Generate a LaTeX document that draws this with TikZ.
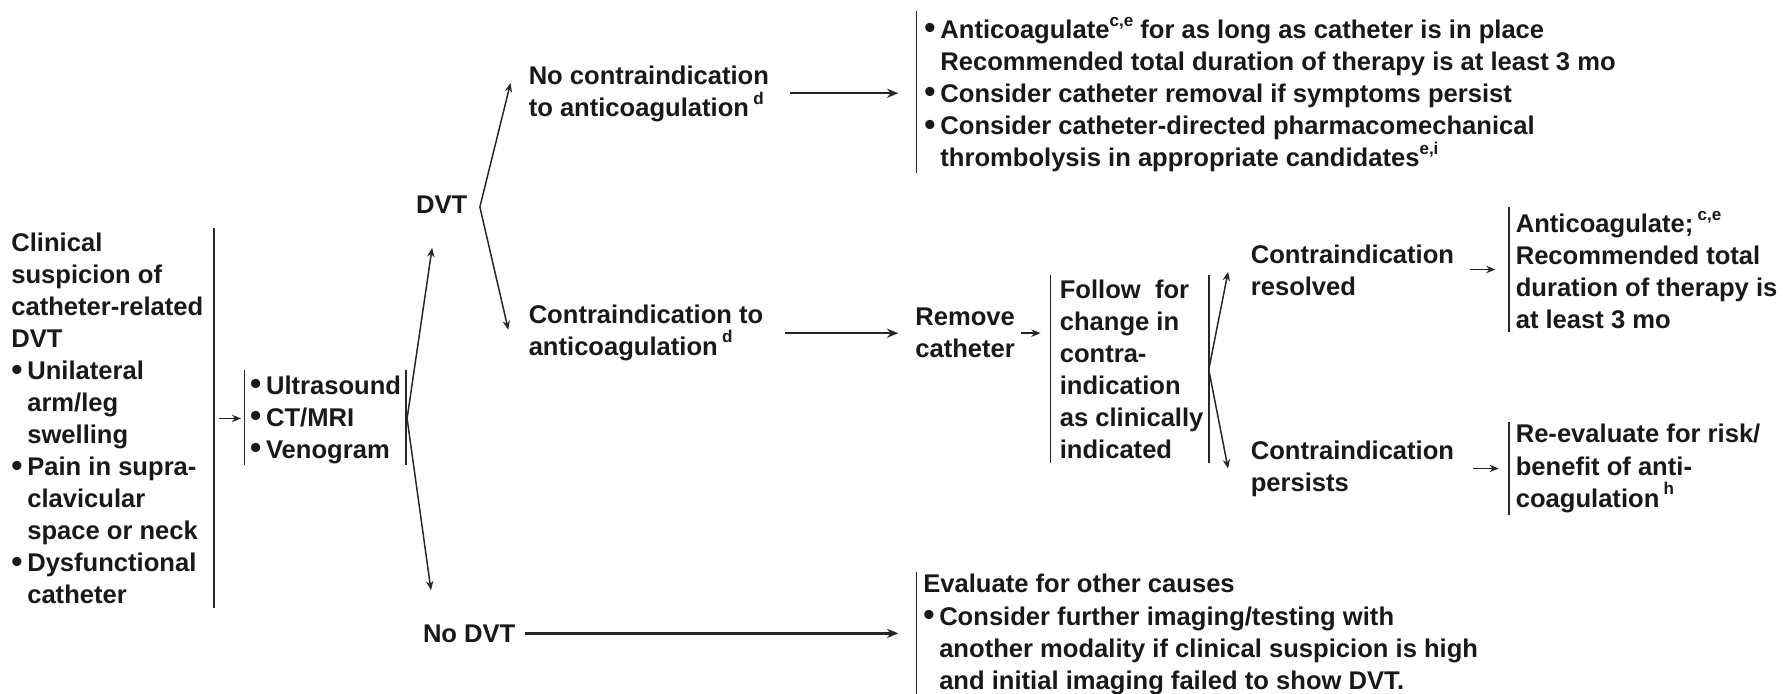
\documentclass[tikz,border=0pt]{standalone}
\usepackage{fontspec}
\usepackage{graphicx}
\setmainfont{Liberation Sans}
\usetikzlibrary{arrows.meta}
\newcommand{\bl}{\makebox[14pt][l]{\raisebox{-0.02em}{\scalebox{1.25}{\textbullet}}}}
\newcommand{\ind}{\hspace*{14pt}}
\newcommand{\sups}[1]{\raisebox{0.48em}{\fontsize{15}{15}\selectfont #1}}
\newcommand{\mainfnt}{\fontsize{22.5}{28.2}\selectfont\bfseries}
\tikzset{
  txt/.style={inner sep=0pt, outer sep=0pt, align=left, anchor=west, font=\mainfnt, text=black!90},
  vbar/.style={line width=1.3pt, black!85},
  arr/.style={line width=1.3pt, black!85, -{Stealth[length=8pt,width=6.5pt]}},
  longarr/.style={line width=2pt, black!85, -{Stealth[length=10pt,width=8pt]}}
}
\begin{document}
\begin{tikzpicture}[x=1pt,y=-1pt]
\useasboundingbox[fill=white] (0,0) rectangle (1568,610);

% ---------- text nodes ----------
\node[txt] (clin) at (10,368) {Clinical\\suspicion of\\catheter-related\\DVT\\\bl Unilateral\\\ind arm/leg\\\ind swelling\\\bl Pain in supra-\\\ind clavicular\\\ind space or neck\\\bl Dysfunctional\\\ind catheter};
\node[txt] (img) at (220,369) {\bl Ultrasound\\\bl CT/MRI\\\bl Venogram};
\node[txt] (dvt) at (366,180) {DVT};
\node[txt] (nodvt) at (372,557) {No DVT};
\node[txt] (nocontra) at (465,83) {No contraindication\\to anticoagulation\,\sups{d}};
\node[txt] (contra) at (465,292.5) {Contraindication to\\anticoagulation\,\sups{d}};
\node[txt] (topblk) at (813,83) {\bl Anticoagulate\sups{c,e} for as long as catheter is in place\\\ind Recommended total duration of therapy is at least 3 mo\\\bl Consider catheter removal if symptoms persist\\\bl Consider catheter-directed pharmacomechanical\\\ind thrombolysis in appropriate candidates\sups{e,i}};
\node[txt] (remove) at (805,292.5) {Remove\\catheter};
\node[txt] (follow) at (932,325) {Follow\ \ for\\change in\\contra-\\indication\\as clinically\\indicated};
\node[txt] (resolved) at (1100,237.5) {Contraindication\\resolved};
\node[txt] (persists) at (1100,412.5) {Contraindication\\persists};
\node[txt] (anticoag) at (1333,237.5) {Anticoagulate;\,\sups{c,e}\\Recommended total\\duration of therapy is\\at least 3 mo};
\node[txt] (reeval) at (1333,412) {Re-evaluate for risk/\\benefit of anti-\\coagulation\,\sups{h}};
\node[txt] (evaluate) at (812,558) {Evaluate for other causes\\\bl Consider further imaging/testing with\\\ind another modality if clinical suspicion is high\\\ind and initial imaging failed to show DVT.};

% ---------- bars ----------
\coordinate (clinT) at (188,200.5); \coordinate (clinB) at (188,535);
\coordinate (imgLT) at (215,325);   \coordinate (imgLB) at (215,409);
\coordinate (imgRT) at (357,325);   \coordinate (imgRB) at (357,409);
\coordinate (topT) at (806,10);     \coordinate (topB) at (806,152);
\coordinate (folLT) at (924,242);   \coordinate (folLB) at (924,407);
\coordinate (folRT) at (1063,242);  \coordinate (folRB) at (1063,407);
\coordinate (antT) at (1327,182);   \coordinate (antB) at (1327,292);
\coordinate (reT) at (1327,371);    \coordinate (reB) at (1327,453);
\coordinate (evT) at (806,503);     \coordinate (evB) at (806,610);
\draw[vbar] (clinT) -- (clinB);
\draw[vbar] (imgLT) -- (imgLB);
\draw[vbar] (imgRT) -- (imgRB);
\draw[vbar] (topT) -- (topB);
\draw[vbar] (folLT) -- (folLB);
\draw[vbar] (folRT) -- (folRB);
\draw[vbar] (antT) -- (antB);
\draw[vbar] (reT) -- (reB);
\draw[vbar] (evT) -- (evB);

% ---------- connector end points ----------
\coordinate (a1s) at (193,368);  \coordinate (a1e) at (212,368);
\coordinate (f1) at (358,368);   \coordinate (f1u) at (380,218); \coordinate (f1d) at (379,519);
\coordinate (f2) at (422,182);   \coordinate (f2u) at (449,73);  \coordinate (f2d) at (447,290);
\coordinate (a2s) at (695,82);   \coordinate (a2e) at (790,82);
\coordinate (a3s) at (690,293);  \coordinate (a3e) at (790,293);
\coordinate (a4s) at (898,293);  \coordinate (a4e) at (915,293);
\coordinate (f3) at (1063,325);  \coordinate (f3u) at (1080,239); \coordinate (f3d) at (1080,412);
\coordinate (a5s) at (1293,237); \coordinate (a5e) at (1315,237);
\coordinate (a6s) at (1295,412); \coordinate (a6e) at (1318,412);
\coordinate (a7s) at (462,557);  \coordinate (a7e) at (790,557);

\draw[arr] (a1s) -- (a1e);
\draw[arr] (f1) -- (f1u);
\draw[arr] (f1) -- (f1d);
\draw[arr] (f2) -- (f2u);
\draw[arr] (f2) -- (f2d);
\draw[longarr] (a2s) -- (a2e);
\draw[longarr] (a3s) -- (a3e);
\draw[arr] (a4s) -- (a4e);
\draw[arr] (f3) -- (f3u);
\draw[arr] (f3) -- (f3d);
\draw[arr] (a5s) -- (a5e);
\draw[arr] (a6s) -- (a6e);
\draw[longarr] (a7s) -- (a7e);
\end{tikzpicture}
\end{document}
